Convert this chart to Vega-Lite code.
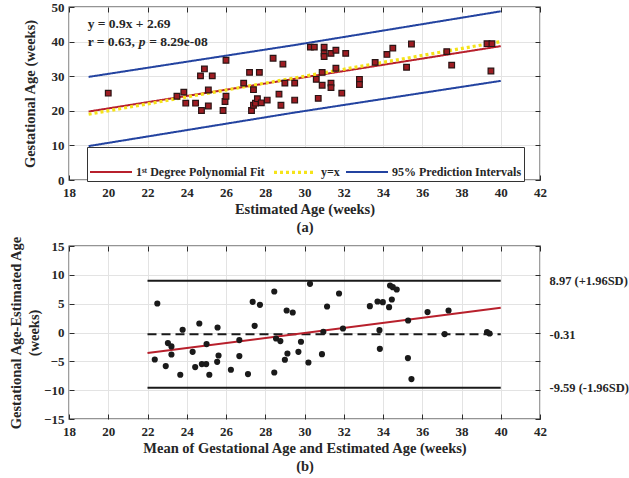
{
  "$schema": "https://vega.github.io/schema/vega-lite/v6.json",
  "background": "white",
  "padding": {"left": 7, "top": 0, "right": 0, "bottom": 0},
  "spacing": 66,
  "bounds": "flush",
  "resolve": {"scale": {"x": "independent", "y": "independent", "color": "independent", "strokeDash": "independent", "strokeWidth": "independent"}},
  "datasets": {
    "scatter": [
      {"estimated": 20.0, "gestational": 25.1}, {"estimated": 23.5, "gestational": 24.2}, {"estimated": 23.85, "gestational": 25.4},
      {"estimated": 23.95, "gestational": 22.2}, {"estimated": 24.45, "gestational": 22.2}, {"estimated": 24.7, "gestational": 30.1},
      {"estimated": 24.9, "gestational": 32.1}, {"estimated": 24.75, "gestational": 20.1}, {"estimated": 25.1, "gestational": 21.4},
      {"estimated": 25.1, "gestational": 26.0}, {"estimated": 25.3, "gestational": 30.1}, {"estimated": 25.85, "gestational": 20.1},
      {"estimated": 25.95, "gestational": 22.7}, {"estimated": 26.0, "gestational": 24.2}, {"estimated": 26.0, "gestational": 34.6},
      {"estimated": 26.9, "gestational": 28.0}, {"estimated": 27.2, "gestational": 31.1}, {"estimated": 27.4, "gestational": 26.1},
      {"estimated": 27.3, "gestational": 20.1}, {"estimated": 27.4, "gestational": 21.6}, {"estimated": 27.5, "gestational": 22.2},
      {"estimated": 27.6, "gestational": 23.5}, {"estimated": 27.7, "gestational": 31.1}, {"estimated": 27.8, "gestational": 22.3},
      {"estimated": 28.1, "gestational": 23.1}, {"estimated": 28.4, "gestational": 35.2}, {"estimated": 28.7, "gestational": 24.8},
      {"estimated": 28.8, "gestational": 21.6}, {"estimated": 28.9, "gestational": 33.5}, {"estimated": 29.0, "gestational": 28.0},
      {"estimated": 29.5, "gestational": 23.1}, {"estimated": 29.5, "gestational": 28.0}, {"estimated": 30.3, "gestational": 38.4},
      {"estimated": 30.5, "gestational": 38.4}, {"estimated": 30.6, "gestational": 29.1}, {"estimated": 30.7, "gestational": 23.6},
      {"estimated": 30.9, "gestational": 31.1}, {"estimated": 31.0, "gestational": 38.4}, {"estimated": 31.0, "gestational": 36.6},
      {"estimated": 31.0, "gestational": 35.7}, {"estimated": 30.9, "gestational": 27.4}, {"estimated": 31.35, "gestational": 36.6},
      {"estimated": 31.35, "gestational": 28.0}, {"estimated": 31.35, "gestational": 26.7}, {"estimated": 31.6, "gestational": 37.5},
      {"estimated": 31.6, "gestational": 32.3}, {"estimated": 31.9, "gestational": 25.1}, {"estimated": 32.1, "gestational": 36.6},
      {"estimated": 32.8, "gestational": 29.1}, {"estimated": 32.8, "gestational": 27.6}, {"estimated": 33.6, "gestational": 34.0},
      {"estimated": 34.2, "gestational": 36.3}, {"estimated": 34.5, "gestational": 38.1}, {"estimated": 35.2, "gestational": 32.6},
      {"estimated": 35.45, "gestational": 39.3}, {"estimated": 37.25, "gestational": 37.1}, {"estimated": 37.5, "gestational": 33.2},
      {"estimated": 39.3, "gestational": 39.4}, {"estimated": 39.55, "gestational": 39.4}, {"estimated": 39.5, "gestational": 31.5}
    ],
    "fitlines": [
      {"series": "95% Prediction Intervals", "line": "upper", "x": 19, "y": 29.8},
      {"series": "95% Prediction Intervals", "line": "upper", "x": 29.5, "y": 39.0},
      {"series": "95% Prediction Intervals", "line": "upper", "x": 40, "y": 48.75},
      {"series": "95% Prediction Intervals", "line": "lower", "x": 19, "y": 9.8},
      {"series": "95% Prediction Intervals", "line": "lower", "x": 29.5, "y": 19.5},
      {"series": "95% Prediction Intervals", "line": "lower", "x": 40, "y": 28.65},
      {"series": "1ˢᵗ Degree Polynomial Fit", "line": "fit", "x": 19, "y": 19.79},
      {"series": "1ˢᵗ Degree Polynomial Fit", "line": "fit", "x": 40, "y": 38.69},
      {"series": "y=x", "line": "identity", "x": 19, "y": 19},
      {"series": "y=x", "line": "identity", "x": 40, "y": 40}
    ],
    "bland": [
      {"mean": 22.5, "diff": 5.03}, {"mean": 22.37, "diff": -4.68}, {"mean": 22.93, "diff": -5.83}, {"mean": 23.04, "diff": -1.84},
      {"mean": 23.22, "diff": -2.42}, {"mean": 23.22, "diff": -3.81}, {"mean": 23.67, "diff": -7.33}, {"mean": 23.79, "diff": 0.47},
      {"mean": 24.3, "diff": -3.35}, {"mean": 24.43, "diff": -6.0}, {"mean": 24.64, "diff": 1.56}, {"mean": 24.77, "diff": -5.48},
      {"mean": 24.99, "diff": -5.48}, {"mean": 25.01, "diff": -2.01}, {"mean": 25.15, "diff": -7.33},
      {"mean": 25.57, "diff": 0.87}, {"mean": 25.62, "diff": -3.99}, {"mean": 25.55, "diff": -5.08}, {"mean": 26.25, "diff": -6.46},
      {"mean": 26.68, "diff": -1.32}, {"mean": 26.68, "diff": -4.09}, {"mean": 27.12, "diff": -7.21}, {"mean": 27.36, "diff": 5.32},
      {"mean": 27.46, "diff": 1.16}, {"mean": 27.73, "diff": 4.8}, {"mean": 28.46, "diff": 7.11}, {"mean": 28.55, "diff": -1.04},
      {"mean": 28.77, "diff": -1.49}, {"mean": 28.46, "diff": -6.93}, {"mean": 29.0, "diff": -4.73}, {"mean": 29.13, "diff": -3.64},
      {"mean": 29.09, "diff": 3.81}, {"mean": 29.4, "diff": 3.47}, {"mean": 29.69, "diff": -3.35}, {"mean": 29.82, "diff": -1.61},
      {"mean": 30.2, "diff": -5.2}, {"mean": 30.28, "diff": 8.44}, {"mean": 30.89, "diff": -3.75}, {"mean": 30.96, "diff": 0.12},
      {"mean": 31.15, "diff": 4.51}, {"mean": 31.76, "diff": 6.76}, {"mean": 31.96, "diff": 0.7}, {"mean": 33.33, "diff": 4.57},
      {"mean": 33.72, "diff": 5.37}, {"mean": 33.99, "diff": 5.26}, {"mean": 33.82, "diff": 0.41}, {"mean": 33.84, "diff": -2.83},
      {"mean": 34.31, "diff": 4.4}, {"mean": 34.45, "diff": 5.72}, {"mean": 34.36, "diff": 8.15}, {"mean": 34.5, "diff": 7.86},
      {"mean": 34.7, "diff": 7.46}, {"mean": 35.28, "diff": 2.08}, {"mean": 35.27, "diff": -4.44}, {"mean": 35.45, "diff": -8.08},
      {"mean": 36.27, "diff": 3.54}, {"mean": 37.14, "diff": -0.28}, {"mean": 37.34, "diff": 3.81}, {"mean": 39.3, "diff": 0.07},
      {"mean": 39.43, "diff": -0.17}
    ],
    "trend": [{"x": 22, "y": -3.57}, {"x": 40, "y": 4.28}],
    "limits": [{"limit": "+1.96SD", "value": 8.97}, {"limit": "-1.96SD", "value": -9.59}],
    "meanline": [{"limit": "mean", "value": -0.31}]
  },
  "config": {
    "font": "Liberation Serif",
    "view": {"stroke": "#2b2b2b", "strokeWidth": 1.3},
    "axis": {
      "domain": false,
      "labelFont": "Liberation Serif", "labelFontWeight": "bold", "labelFontSize": 13, "labelColor": "#262626",
      "titleFont": "Liberation Serif", "titleFontWeight": "bold", "titleFontSize": 14.5, "titleColor": "#262626",
      "tickColor": "#2b2b2b", "tickSize": -5, "tickWidth": 1,
      "gridColor": "#e3e3e3", "gridWidth": 1,
      "labelFlush": false, "labelOverlap": false, "titleLineHeight": 18
    },
    "axisX": {"labelPadding": 11, "titlePadding": 3},
    "axisY": {"labelPadding": 10}
  },
  "vconcat": [
    {
      "width": 471,
      "height": 173,
      "layer": [
        {
          "data": {"name": "fitlines"},
          "mark": {"type": "line", "strokeCap": "butt"},
          "encoding": {
            "x": {"field": "x", "type": "quantitative", "scale": {"domain": [18, 42], "nice": false},
                  "axis": {"orient": "top", "values": [18,20,22,24,26,28,30,32,34,36,38,40,42], "labels": false, "grid": false, "title": null}},
            "y": {"field": "y", "type": "quantitative", "scale": {"domain": [0, 50], "nice": false},
                  "axis": {"orient": "right", "values": [0,10,20,30,40,50], "labels": false, "grid": false, "title": null}},
            "color": {"field": "series", "type": "nominal",
                      "scale": {"domain": ["1ˢᵗ Degree Polynomial Fit", "y=x", "95% Prediction Intervals"], "range": ["#b8202c", "#f5e31a", "#2343a0"]},
                      "legend": {"orient": "none", "legendX": 18, "legendY": 140, "direction": "horizontal", "title": null,
                                 "symbolType": "stroke", "symbolSize": 1764, "symbolStrokeWidth": 2,
                                 "labelFont": "Liberation Serif", "labelFontWeight": "bold", "labelFontSize": 12, "labelColor": "#262626",
                                 "labelLimit": 300, "labelOffset": 3, "columnPadding": 2,
                                 "fillColor": "white", "strokeColor": "#333333", "padding": 2}},
            "strokeDash": {"field": "series", "type": "nominal",
                           "scale": {"domain": ["1ˢᵗ Degree Polynomial Fit", "y=x", "95% Prediction Intervals"], "range": [[1, 0], [3, 3], [1, 0]]}},
            "strokeWidth": {"field": "series", "type": "nominal",
                            "scale": {"type": "ordinal", "domain": ["1ˢᵗ Degree Polynomial Fit", "y=x", "95% Prediction Intervals"], "range": [2, 3.2, 2]}},
            "detail": {"field": "line", "type": "nominal"}
          }
        },
        {
          "data": {"name": "scatter"},
          "mark": {"type": "square", "size": 32, "filled": true, "fill": "#9e1c22", "stroke": "#2a1515", "strokeWidth": 1.2, "opacity": 1},
          "encoding": {
            "x": {"field": "estimated", "type": "quantitative",
                  "axis": {"values": [18,20,22,24,26,28,30,32,34,36,38,40,42], "grid": true, "title": ["Estimated Age (weeks)", "(a)"]}},
            "y": {"field": "gestational", "type": "quantitative",
                  "axis": {"values": [0,10,20,30,40,50], "grid": true, "title": "Gestational Age (weeks)", "titlePadding": 14}}
          }
        },
        {
          "data": {"values": [{}]},
          "mark": {"type": "text", "text": "y = 0.9x + 2.69", "font": "Liberation Serif", "fontWeight": "bold", "fontSize": 13.5, "color": "#262626", "align": "left", "baseline": "alphabetic"},
          "encoding": {
            "x": {"datum": 18.95, "type": "quantitative", "axis": null},
            "y": {"datum": 43.9, "type": "quantitative", "axis": null}
          }
        },
        {
          "data": {"values": [{}]},
          "mark": {"type": "text", "text": "r = 0.63,", "font": "Liberation Serif", "fontWeight": "bold", "fontSize": 13.5, "color": "#262626", "align": "left", "baseline": "alphabetic"},
          "encoding": {
            "x": {"datum": 18.95, "type": "quantitative", "axis": null},
            "y": {"datum": 38.8, "type": "quantitative", "axis": null}
          }
        },
        {
          "data": {"values": [{}]},
          "mark": {"type": "text", "text": "p", "dx": 51, "font": "Liberation Serif", "fontWeight": "bold", "fontStyle": "italic", "fontSize": 13.5, "color": "#262626", "align": "left", "baseline": "alphabetic"},
          "encoding": {
            "x": {"datum": 18.95, "type": "quantitative", "axis": null},
            "y": {"datum": 38.8, "type": "quantitative", "axis": null}
          }
        },
        {
          "data": {"values": [{}]},
          "mark": {"type": "text", "text": "= 8.29e-08", "dx": 61.5, "font": "Liberation Serif", "fontWeight": "bold", "fontSize": 13.5, "color": "#262626", "align": "left", "baseline": "alphabetic"},
          "encoding": {
            "x": {"datum": 18.95, "type": "quantitative", "axis": null},
            "y": {"datum": 38.8, "type": "quantitative", "axis": null}
          }
        }
      ],
      "resolve": {"axis": {"x": "independent", "y": "independent"}}
    },
    {
      "width": 471,
      "height": 173,
      "layer": [
        {
          "data": {"name": "limits"},
          "mark": {"type": "rule", "color": "#1a1a1a", "strokeWidth": 2},
          "encoding": {
            "x": {"datum": 22, "type": "quantitative", "scale": {"domain": [18, 42], "nice": false}, "axis": null},
            "x2": {"datum": 40},
            "y": {"field": "value", "type": "quantitative", "scale": {"domain": [-15, 15], "nice": false},
                  "axis": {"orient": "right", "values": [8.97, -0.31, -9.59], "ticks": false, "grid": false, "title": null, "labelPadding": 9,
                           "labelFontSize": 12.5,
                           "labelExpr": "datum.value > 5 ? '8.97 (+1.96SD)' : (datum.value > -5 ? '-0.31' : '-9.59 (-1.96SD)')"}}
          }
        },
        {
          "data": {"name": "meanline"},
          "mark": {"type": "rule", "color": "#1a1a1a", "strokeWidth": 2, "strokeDash": [9, 5]},
          "encoding": {
            "x": {"datum": 22, "type": "quantitative", "axis": null},
            "x2": {"datum": 40},
            "y": {"field": "value", "type": "quantitative", "axis": null}
          }
        },
        {
          "data": {"name": "trend"},
          "mark": {"type": "line", "color": "#b8202c", "strokeWidth": 2},
          "encoding": {
            "x": {"field": "x", "type": "quantitative",
                  "axis": {"orient": "top", "values": [18,20,22,24,26,28,30,32,34,36,38,40,42], "labels": false, "grid": false, "title": null}},
            "y": {"field": "y", "type": "quantitative",
                  "axis": {"orient": "right", "values": [-15,-10,-5,0,5,10,15], "labels": false, "grid": false, "title": null}}
          }
        },
        {
          "data": {"name": "bland"},
          "mark": {"type": "circle", "size": 38, "opacity": 1, "color": "#1a1a1a"},
          "encoding": {
            "x": {"field": "mean", "type": "quantitative",
                  "axis": {"values": [18,20,22,24,26,28,30,32,34,36,38,40,42], "grid": true, "title": ["Mean of Gestational Age and Estimated Age (weeks)", "(b)"]}},
            "y": {"field": "diff", "type": "quantitative",
                  "axis": {"values": [-15,-10,-5,0,5,10,15], "grid": true, "title": ["Gestational Age-Estimated Age", "(weeks)"], "titlePadding": 2}}
          }
        }
      ],
      "resolve": {"axis": {"x": "independent", "y": "independent"}}
    }
  ]
}
